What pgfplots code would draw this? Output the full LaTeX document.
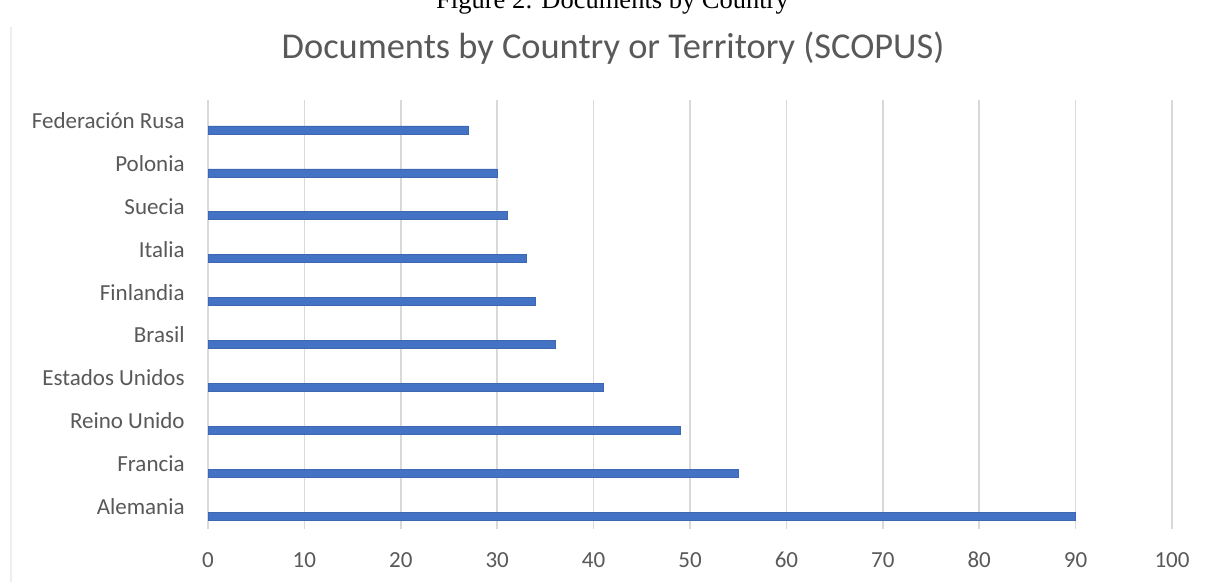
\documentclass[border=0pt]{standalone}
\usepackage{fontspec}
\setmainfont{Carlito}
\newfontfamily\capfont{Liberation Serif}
\usepackage{pgfplots}
\pgfplotsset{compat=1.18}
\definecolor{barblue}{HTML}{4472C4}
\definecolor{gridgray}{HTML}{D9D9D9}
\definecolor{txtgray}{HTML}{595959}
\definecolor{framegray}{HTML}{EEEEEE}
\begin{document}
\begin{tikzpicture}
\useasboundingbox (0pt,0pt) rectangle (607.5pt,-291pt);
\fill[white] (0pt,0pt) rectangle (607.5pt,-291pt);
\draw[framegray, line width=0.6pt] (5.5pt,-13.5pt) -- (5.5pt,-292pt);
\node[anchor=base, inner sep=0pt] at (306.25pt,-4.5pt) {\capfont\fontsize{13.25pt}{15pt}\selectfont Figure 2: Documents by Country};
\node[anchor=base, inner sep=0pt, text=txtgray] at (306.5pt,-29.25pt) {\fontsize{18.2pt}{21pt}\selectfont Documents by Country or Territory (SCOPUS)};
\begin{axis}[
  at={(104pt,-264.25pt)}, anchor=south west,
  scale only axis, width=482pt, height=214.5pt,
  xbar, bar width=4pt, bar shift=-4.5pt,
  xmin=0, xmax=100, ymin=-0.5, ymax=9.5,
  xtick={0,10,...,100}, ytick={0,1,...,9},
  yticklabels={Alemania,Francia,Reino Unido,Estados Unidos,Brasil,Finlandia,Italia,Suecia,Polonia,Federación Rusa},
  xmajorgrids, major grid style={draw=gridgray, line width=0.75pt},
  axis line style={draw=none},
  major tick length=0pt,
  tick label style={font=\fontsize{11.5pt}{13pt}\selectfont, text=txtgray},
  /pgf/number format/assume math mode=true,
  xticklabel style={anchor=base, inner sep=0pt, yshift=-19.25pt},
  yticklabel style={anchor=base east, inner sep=0pt, xshift=-11.5pt, yshift=-3.75pt},
]
\addplot[fill=barblue, draw=barblue!90!black, line width=0.3pt] coordinates {
  (90,0) (55,1) (49,2) (41,3) (36,4) (34,5) (33,6) (31,7) (30,8) (27,9)
};
\end{axis}
\end{tikzpicture}
\end{document}
